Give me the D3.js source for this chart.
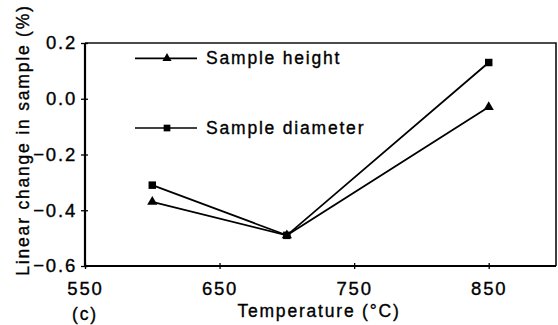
<!DOCTYPE html>
<html>
<head>
<meta charset="utf-8">
<script src="https://cdn.jsdelivr.net/npm/d3@7"></script>
<style>
  body { margin: 0; background: #fff; }
  svg { display: block; }
  text { font-family: "Liberation Sans", Arial, sans-serif; font-size: 17.5px; letter-spacing: 1.8px; fill: #000; stroke: #000; stroke-width: 0.35px; }
</style>
</head>
<body>
<div id="chart"></div>
<script>
const temperatures = [600, 700, 850];
const heightChange = [-0.37, -0.49, -0.03];
const diameterChange = [-0.31, -0.49, 0.13];
const xTicks = [550, 650, 750, 850];
const yTicks = [-0.6, -0.4, -0.2, 0.0, 0.2];

const width = 558, height = 325;
const svg = d3.select('#chart').append('svg')
  .attr('width', width)
  .attr('height', height);

const x = d3.scaleLinear().domain([550, 900]).range([85, 556]);
const y = d3.scaleLinear().domain([-0.6, 0.2]).range([266, 43]);

// frame (top and right)
svg.append('path')
  .attr('d', `M${x(550)},${y(0.2)}H${x(900)}V${y(-0.6)}`)
  .attr('fill', 'none')
  .attr('stroke', '#111')
  .attr('stroke-width', 1.6);

// axes
const xAxis = svg.append('g')
  .attr('transform', `translate(0,${y(-0.6)})`)
  .call(d3.axisBottom(x).tickValues(xTicks).tickSize(3).tickFormat(d3.format('d')));
xAxis.select('.domain').attr('stroke-width', 2.2).attr('d', `M${x(550)},0H${x(900)}`);
xAxis.selectAll('.tick line').attr('y1', -3).attr('y2', 3).attr('stroke-width', 1.3);
xAxis.selectAll('.tick text').attr('y', 16).attr('dy', '0.71em')
  .style('font-family', '"Liberation Sans", Arial, sans-serif').style('font-size', '18.5px').attr('fill', '#000');

const yAxis = svg.append('g')
  .attr('transform', `translate(${x(550)},0)`)
  .call(d3.axisLeft(y).tickValues(yTicks).tickSize(3).tickFormat(d3.format('.1f')));
yAxis.select('.domain').attr('stroke-width', 2.2).attr('d', `M0,${y(-0.6)}V${y(0.2)}`);
yAxis.selectAll('.tick line').attr('x1', -4).attr('x2', 3).attr('stroke-width', 1.3);
yAxis.selectAll('.tick text').attr('x', -8)
  .style('font-family', '"Liberation Sans", Arial, sans-serif').style('font-size', '18.5px').attr('fill', '#000');

// series
const series = [
  { name: 'Sample height', values: heightChange, symbol: d3.symbolTriangle, size: 45, legendY: 0.145 },
  { name: 'Sample diameter', values: diameterChange, symbol: d3.symbolSquare, size: 56, legendY: -0.105 }
];

const line = d3.line()
  .x(d => x(d[0]))
  .y(d => y(d[1]));

series.forEach(s => {
  const pts = temperatures.map((t, i) => [t, s.values[i]]);
  svg.append('path')
    .attr('d', line(pts))
    .attr('fill', 'none')
    .attr('stroke', '#000')
    .attr('stroke-width', 1.8);
  svg.selectAll(null)
    .data(pts)
    .enter()
    .append('path')
    .attr('d', d3.symbol().type(s.symbol).size(s.size))
    .attr('transform', d => `translate(${x(d[0])},${y(d[1])})`)
    .attr('fill', '#000');

  // legend
  const ly = y(s.legendY);
  const lg = svg.append('g');
  lg.append('line')
    .attr('x1', 135).attr('x2', 197).attr('y1', ly).attr('y2', ly)
    .attr('stroke', '#000').attr('stroke-width', 1.6);
  lg.append('path')
    .attr('d', d3.symbol().type(s.symbol).size(s.size * 0.8))
    .attr('transform', `translate(167,${ly})`)
    .attr('fill', '#000');
  lg.append('text')
    .attr('x', 206).attr('y', ly + 6)
    .text(s.name);
});

// axis titles
svg.append('text')
  .attr('x', 319).attr('y', 317)
  .attr('text-anchor', 'middle')
  .text('Temperature (°C)');

svg.append('text')
  .attr('transform', 'translate(29,140) rotate(-90)')
  .attr('text-anchor', 'middle')
  .text('Linear change in sample (%)');

svg.append('text')
  .attr('x', 72).attr('y', 320)
  .text('(c)');
</script>
</body>
</html>
